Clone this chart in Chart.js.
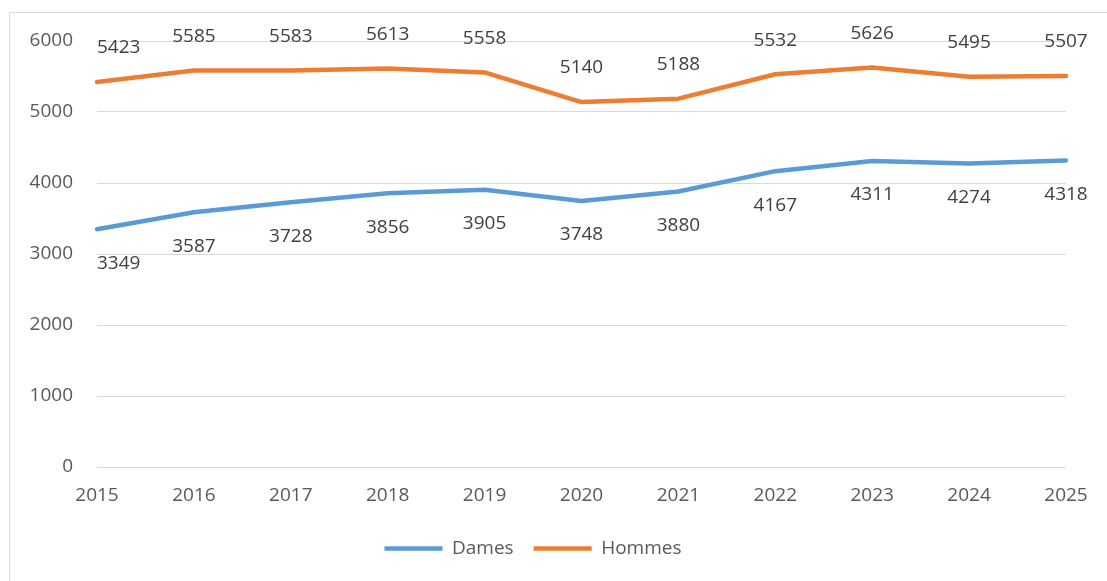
<!DOCTYPE html>
<html>
<head>
<meta charset="utf-8">
<script src="https://cdn.jsdelivr.net/npm/chart.js"></script>
<style>
  html, body { margin: 0; padding: 0; background: #fff; }
  #wrap { width: 1107px; height: 581px; position: relative; }
</style>
</head>
<body>
<div id="wrap"><canvas id="chart"></canvas></div>
<script>
// chart data
const years = ['2015', '2016', '2017', '2018', '2019', '2020', '2021', '2022', '2023', '2024', '2025'];
const dames = [3349, 3587, 3728, 3856, 3905, 3748, 3880, 4167, 4311, 4274, 4318];
const hommes = [5423, 5585, 5583, 5613, 5558, 5140, 5188, 5532, 5626, 5495, 5507];
const yTicks = [0, 1000, 2000, 3000, 4000, 5000, 6000];

const fontFam = '"Segoe UI", "Open Sans", "Noto Sans", sans-serif';
Chart.defaults.font.family = fontFam;
Chart.defaults.font.size = 19;
Chart.defaults.color = '#595959';

// outer frame like the excel chart border
const framePlugin = {
  id: 'frame',
  beforeDraw(chart) {
    const c = chart.ctx;
    c.save();
    c.strokeStyle = '#d9d9d9';
    c.lineWidth = 1;
    c.strokeRect(9.5, 12.5, 1300, 800);
    c.restore();
  }
};

// value labels, above for Hommes, below for Dames
const valueLabels = {
  id: 'valueLabels',
  afterDatasetsDraw(chart) {
    const c = chart.ctx;
    const area = chart.chartArea;
    c.save();
    c.font = '19px ' + fontFam;
    c.fillStyle = '#404040';
    c.textAlign = 'center';
    c.textBaseline = 'middle';
    chart.data.datasets.forEach((ds, i) => {
      const meta = chart.getDatasetMeta(i);
      const off = ds.label === 'Hommes' ? -34 : 34;
      meta.data.forEach((pt, j) => {
        const txt = String(ds.data[j]);
        const w = c.measureText(txt).width;
        let x = pt.x;
        if (x - w / 2 < area.left) x = area.left + w / 2;
        c.fillText(txt, x, pt.y + off);
      });
    });
    c.restore();
  }
};

new Chart(document.getElementById('chart'), {
  type: 'line',
  data: {
    labels: years,
    datasets: [
      {
        label: 'Dames',
        data: dames,
        borderColor: '#5b9bd5',
        backgroundColor: '#5b9bd5',
        borderWidth: 4.5,
        pointRadius: 0,
        tension: 0,
        borderJoinStyle: 'round',
        borderCapStyle: 'round'
      },
      {
        label: 'Hommes',
        data: hommes,
        borderColor: '#ed7d31',
        backgroundColor: '#ed7d31',
        borderWidth: 4.5,
        pointRadius: 0,
        tension: 0,
        borderJoinStyle: 'round',
        borderCapStyle: 'round'
      }
    ]
  },
  options: {
    responsive: true,
    maintainAspectRatio: false,
    animation: false,
    layout: { padding: { left: 0, top: 41, right: 41, bottom: 13 } },
    plugins: {
      legend: {
        position: 'bottom',
        labels: {
          usePointStyle: true,
          pointStyle: 'line',
          pointStyleWidth: 58,
          color: '#595959',
          padding: 20,
          font: { size: 19 }
        }
      },
      tooltip: { enabled: false }
    },
    scales: {
      x: {
        offset: false,
        grid: { display: false, drawTicks: false },
        border: { display: false },
        ticks: { padding: 17, maxRotation: 0, autoSkip: false, color: '#595959' },
        afterFit(s) { s.height = 52; }
      },
      y: {
        min: 0,
        max: 6000,
        afterBuildTicks(s) { s.ticks = yTicks.map(v => ({ value: v })); },
        grid: { color: '#d9d9d9', lineWidth: 1, drawTicks: false },
        border: { display: false },
        ticks: { padding: 24, color: '#595959', callback: v => String(v) },
        afterFit(s) { s.width = 97; }
      }
    }
  },
  plugins: [framePlugin, valueLabels]
});
</script>
</body>
</html>
